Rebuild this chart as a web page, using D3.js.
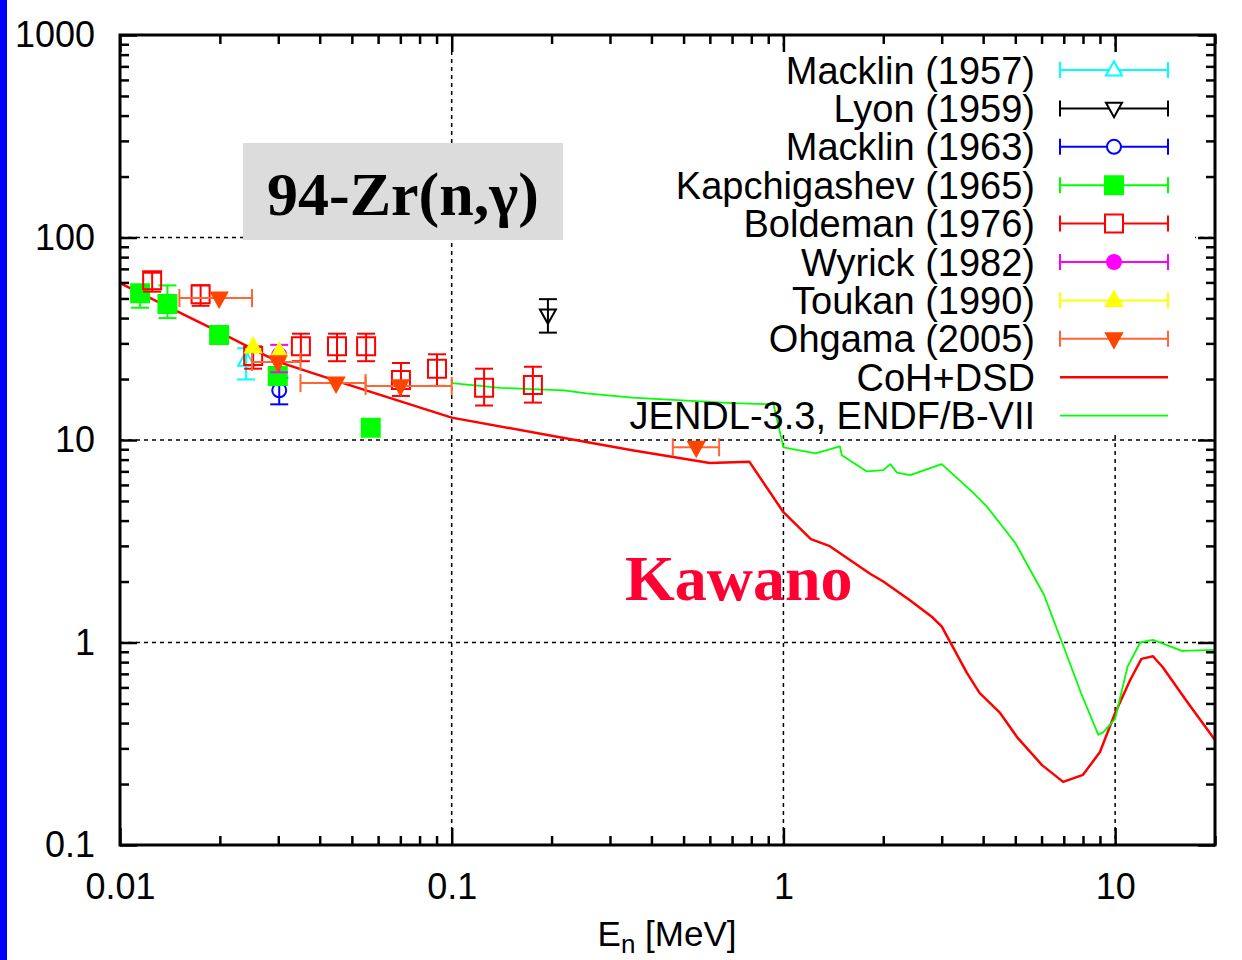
<!DOCTYPE html>
<html>
<head>
<meta charset="utf-8">
<script src="https://cdn.jsdelivr.net/npm/d3@7"></script>
<style>
  html, body { margin: 0; padding: 0; background: #fff; }
  svg { display: block; }
</style>
</head>
<body>
<div class="visHolder"></div>
<script>
// experimental data: [E (MeV), sigma (mb), sigma low, sigma high, E low, E high]
const macklin1957 = [[0.024, 24.8, 19.9, 28.4]];
const lyon1959 = [[0.195, 41.4, 33.9, 49.6]];
const macklin1963 = [[0.0302, 17.6, 15.0, 20.3]];
const kapchigashev1965 = [
  [0.0115, 53, 45, 57],
  [0.0139, 47, 40, 58],
  [0.0199, 33],
  [0.0299, 20.7],
  [0.057, 11.5],
];
const boldeman1976 = [
  [0.0125, 61.5, 54, 67],
  [0.0175, 52.5, 46, 58],
  [0.0252, 26, 22.5, 29],
  [0.0351, 29, 24.5, 33.5],
  [0.0451, 29, 24.5, 33.5],
  [0.0552, 29, 24.5, 33.5],
  [0.0703, 19.8, 16.5, 24],
  [0.0903, 22.5, 18.5, 26.5],
  [0.1252, 18.1, 14.8, 22.5],
  [0.1757, 18.7, 15.3, 23],
];
const wyrick1982 = [[0.0302, 26.3, 21.6, 29.5]];
const toukan1990 = [[0.0252, 28.8], [0.0302, 27.3]];
const ohgama2005 = [
  [0.0199, 50.2, null, null, 0.0151, 0.025],
  [0.0299, 24.3, null, null, 0.025, 0.035],
  [0.0448, 19.1, null, null, 0.035, 0.055],
  [0.07, 18.5, null, null, 0.055, 0.1],
  [0.546, 9.2, null, null, 0.464, 0.64],
];

// evaluated curves: [E (MeV), sigma (mb)]
const cohDsd = [
  [0.01, 59.6], [0.02, 34], [0.03, 24.3], [0.05, 18.5], [0.1, 12.9],
  [0.2, 10.5], [0.35, 8.9], [0.6, 7.7], [0.79, 7.8], [1.0, 4.4],
  [1.21, 3.24], [1.38, 2.99], [1.83, 2.18], [2.0, 2.0], [2.4, 1.62],
  [2.8, 1.34], [3.0, 1.2], [3.57, 0.71], [3.9, 0.564], [4.5, 0.449],
  [5.06, 0.341], [6.02, 0.248], [6.97, 0.205], [8.0, 0.222], [9.0, 0.288],
  [10, 0.449], [11.1, 0.653], [12.0, 0.83], [13.0, 0.855], [13.9, 0.757],
  [16.5, 0.508], [20, 0.33],
];
const jendl = [
  [0.1, 19.1], [0.14, 18.1], [0.218, 17.6], [0.255, 17.0], [0.35, 16.2],
  [0.7, 15.2], [0.92, 15.0], [0.93, 15.4], [1.0, 9.2], [1.25, 8.6],
  [1.48, 9.3], [1.5, 8.4], [1.78, 7.0], [2.0, 7.1], [2.1, 7.6],
  [2.2, 6.9], [2.41, 6.7], [3.0, 7.6], [3.73, 5.5], [4.1, 4.7],
  [5.0, 3.1], [6.1, 1.72], [7.0, 0.95], [7.9, 0.56], [8.9, 0.35],
  [9.2, 0.36], [10, 0.42], [10.9, 0.76], [11.9, 1.0], [13, 1.03],
  [15.9, 0.91], [20, 0.92],
];

const xTicks = [0.01, 0.1, 1, 10];
const xTickLabels = ["0.01", "0.1", "1", "10"];
const yTicks = [0.1, 1, 10, 100, 1000];
const yTickLabels = ["0.1", "1", "10", "100", "1000"];

const series = [
  { name: "Macklin (1957)", data: macklin1957, color: "#00ffff", symbol: "triUp", fill: false },
  { name: "Lyon (1959)", data: lyon1959, color: "#000000", symbol: "triDown", fill: false },
  { name: "Macklin (1963)", data: macklin1963, color: "#0000ff", symbol: "circle", fill: false },
  { name: "Kapchigashev (1965)", data: kapchigashev1965, color: "#00ff00", symbol: "square", fill: true },
  { name: "Boldeman (1976)", data: boldeman1976, color: "#ff0000", symbol: "square", fill: false },
  { name: "Wyrick (1982)", data: wyrick1982, color: "#ff00ff", symbol: "circle", fill: true },
  { name: "Toukan (1990)", data: toukan1990, color: "#ffff00", symbol: "triUp", fill: true },
  { name: "Ohgama (2005)", data: ohgama2005, color: "#ff6633", symbol: "triDown", fill: true, markColor: "#ff4400" },
];
const curves = [
  { name: "CoH+DSD", data: cohDsd, color: "#ff0000", width: 2.5 },
  { name: "JENDL-3.3, ENDF/B-VII", data: jendl, color: "#00ff00", width: 1.8 },
];

const width = 1242;
const height = 960;
const plotL = 120, plotR = 1215, plotT = 35, plotB = 845;

const x = d3.scaleLog().domain([0.01, 20]).range([plotL, plotR]);
const y = d3.scaleLog().domain([0.1, 1000]).range([plotB, plotT]);

const svg = d3.select(".visHolder").append("svg")
  .attr("width", width).attr("height", height)
  .style("font-family", "'Liberation Sans', Arial, sans-serif");

svg.append("rect").attr("width", width).attr("height", height).attr("fill", "#fff");
// blue slide edge
svg.append("rect").attr("x", 0).attr("y", 0).attr("width", 7).attr("height", height).attr("fill", "#0000ff");

// Kawano label (under grid)
svg.append("text")
  .attr("x", 625).attr("y", 600)
  .attr("font-family", "'Liberation Serif', 'Times New Roman', serif")
  .attr("font-weight", "bold").attr("font-size", 64)
  .attr("fill", "#ff0033")
  .text("Kawano");

// grid
const grid = svg.append("g").attr("stroke", "#000").attr("stroke-width", 1.5).attr("stroke-dasharray", "4,4");
grid.selectAll(".gx").data(xTicks.filter((d) => d > 0.01)).enter().append("line")
  .attr("x1", (d) => x(d)).attr("x2", (d) => x(d)).attr("y1", plotT).attr("y2", plotB);
grid.selectAll(".gy").data(yTicks.filter((d) => d > 0.1 && d < 1000)).enter().append("line")
  .attr("y1", (d) => y(d)).attr("y2", (d) => y(d)).attr("x1", plotL).attr("x2", plotR);

// legend background and title box cover the grid
svg.append("rect").attr("x", 560).attr("y", 46).attr("width", 635).attr("height", 388).attr("fill", "#fff");
svg.append("rect").attr("x", 243).attr("y", 143).attr("width", 320).attr("height", 97).attr("fill", "#dcdcdc");
svg.append("text")
  .attr("x", 403).attr("y", 215).attr("text-anchor", "middle")
  .attr("font-family", "'Liberation Serif', 'Times New Roman', serif")
  .attr("font-weight", "bold").attr("font-size", 62)
  .text("94-Zr(n,γ)");

// symbols
function symbolPath(type, cx, cy, s) {
  if (type === "square") return `M${cx - s},${cy - s}h${2 * s}v${2 * s}h${-2 * s}Z`;
  if (type === "triUp") return `M${cx},${cy - s * 1.1}L${cx + s},${cy + s * 0.7}L${cx - s},${cy + s * 0.7}Z`;
  if (type === "triDown") return `M${cx},${cy + s * 1.1}L${cx + s},${cy - s * 0.7}L${cx - s},${cy - s * 0.7}Z`;
  return `M${cx - s},${cy}a${s},${s} 0 1,0 ${2 * s},0a${s},${s} 0 1,0 ${-2 * s},0Z`;
}
const symSize = { square: 9, triUp: 8, triDown: 8, circle: 7 };

// curves
const line = d3.line().x((d) => x(d[0])).y((d) => y(d[1]));
svg.selectAll(".curve").data(curves).enter().append("path")
  .attr("d", (c) => line(c.data))
  .attr("fill", "none")
  .attr("stroke", (c) => c.color)
  .attr("stroke-width", (c) => c.width)
  .attr("stroke-linejoin", "round");

// data points
const cap = 9;
series.forEach((s) => {
  const g = svg.append("g").attr("stroke", s.color).attr("stroke-width", 2);
  s.data.forEach((d) => {
    const cx = x(d[0]), cy = y(d[1]);
    if (d[2] != null) {
      g.append("line").attr("x1", cx).attr("x2", cx).attr("y1", y(d[2])).attr("y2", y(d[3]));
      g.append("line").attr("x1", cx - cap).attr("x2", cx + cap).attr("y1", y(d[2])).attr("y2", y(d[2]));
      g.append("line").attr("x1", cx - cap).attr("x2", cx + cap).attr("y1", y(d[3])).attr("y2", y(d[3]));
    }
    if (d[4] != null) {
      g.append("line").attr("x1", x(d[4])).attr("x2", x(d[5])).attr("y1", cy).attr("y2", cy);
      g.append("line").attr("x1", x(d[4])).attr("x2", x(d[4])).attr("y1", cy - cap).attr("y2", cy + cap);
      g.append("line").attr("x1", x(d[5])).attr("x2", x(d[5])).attr("y1", cy - cap).attr("y2", cy + cap);
    }
    const mc = s.markColor || s.color;
    g.append("path")
      .attr("d", symbolPath(s.symbol, cx, cy, symSize[s.symbol]))
      .attr("fill", s.fill ? mc : "none")
      .attr("stroke", mc);
  });
});

// legend
const legendY = (i) => 70 + i * 38.4;
const legendItems = series.concat(curves);
const lg = svg.append("g");
legendItems.forEach((s, i) => {
  const ly = legendY(i);
  lg.append("text")
    .attr("x", 1035).attr("y", ly).attr("dy", "0.36em")
    .attr("text-anchor", "end").attr("font-size", 38).attr("fill", "#000")
    .text(s.name);
  if (s.symbol) {
    const g = lg.append("g").attr("stroke", s.color).attr("stroke-width", 2);
    g.append("line").attr("x1", 1060).attr("x2", 1168).attr("y1", ly).attr("y2", ly);
    g.append("line").attr("x1", 1060).attr("x2", 1060).attr("y1", ly - 8).attr("y2", ly + 8);
    g.append("line").attr("x1", 1168).attr("x2", 1168).attr("y1", ly - 8).attr("y2", ly + 8);
    const mc = s.markColor || s.color;
    g.append("path")
      .attr("d", symbolPath(s.symbol, 1114, ly, symSize[s.symbol]))
      .attr("fill", s.fill ? mc : "#fff")
      .attr("stroke", mc);
  } else {
    lg.append("line").attr("x1", 1060).attr("x2", 1168).attr("y1", ly).attr("y2", ly)
      .attr("stroke", s.color).attr("stroke-width", s.width);
  }
});

// minor tick values
const minorX = [];
[0.01, 0.1, 1, 10].forEach((p) => d3.range(2, 10).forEach((m) => { if (p * m <= 20) minorX.push(p * m); }));
const minorY = [];
[0.1, 1, 10, 100].forEach((p) => d3.range(2, 10).forEach((m) => minorY.push(p * m)));

function styleAxis(g) {
  g.select(".domain").remove();
  g.selectAll(".tick line").attr("stroke", "#000").attr("stroke-width", 2.5);
  g.selectAll(".tick text").attr("font-size", 36).attr("fill", "#000")
    .attr("font-family", "'Liberation Sans', Arial, sans-serif");
}

const labX = (d) => xTickLabels[xTicks.indexOf(d)];
const labY = (d) => yTickLabels[yTicks.indexOf(d)];

svg.append("g").attr("transform", `translate(0,${plotB})`)
  .call(d3.axisBottom(x).tickValues(xTicks).tickFormat(labX).tickSize(-17).tickPadding(28)).call(styleAxis);
svg.append("g").attr("transform", `translate(0,${plotB})`)
  .call(d3.axisBottom(x).tickValues(minorX).tickFormat("").tickSize(-9)).call(styleAxis);
svg.append("g").attr("transform", `translate(0,${plotT})`)
  .call(d3.axisTop(x).tickValues(xTicks).tickFormat("").tickSize(-17)).call(styleAxis);
svg.append("g").attr("transform", `translate(0,${plotT})`)
  .call(d3.axisTop(x).tickValues(minorX).tickFormat("").tickSize(-9)).call(styleAxis);

svg.append("g").attr("transform", `translate(${plotL},0)`)
  .call(d3.axisLeft(y).tickValues(yTicks).tickFormat(labY).tickSize(-17).tickPadding(25)).call(styleAxis);
svg.append("g").attr("transform", `translate(${plotL},0)`)
  .call(d3.axisLeft(y).tickValues(minorY).tickFormat("").tickSize(-9)).call(styleAxis);
svg.append("g").attr("transform", `translate(${plotR},0)`)
  .call(d3.axisRight(y).tickValues(yTicks).tickFormat("").tickSize(-17)).call(styleAxis);
svg.append("g").attr("transform", `translate(${plotR},0)`)
  .call(d3.axisRight(y).tickValues(minorY).tickFormat("").tickSize(-9)).call(styleAxis);

// frame
svg.append("rect")
  .attr("x", plotL).attr("y", plotT).attr("width", plotR - plotL).attr("height", plotB - plotT)
  .attr("fill", "none").attr("stroke", "#000").attr("stroke-width", 3);

// x axis title
const xt = svg.append("text")
  .attr("x", 667).attr("y", 946).attr("text-anchor", "middle")
  .attr("font-size", 35).attr("fill", "#000");
xt.append("tspan").text("E");
xt.append("tspan").attr("dy", 7).attr("font-size", 26).text("n");
xt.append("tspan").attr("dy", -7).text(" [MeV]");
</script>
</body>
</html>
